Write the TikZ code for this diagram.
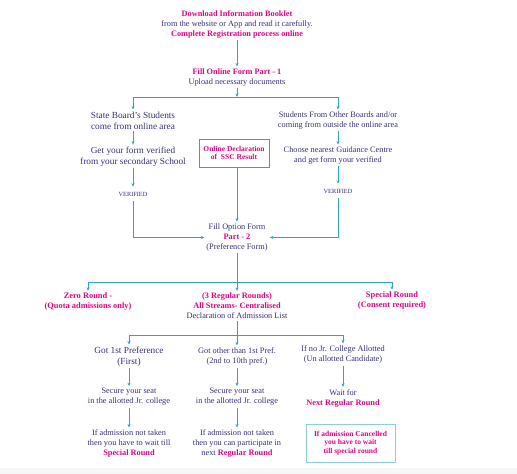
\documentclass[tikz,border=0pt]{standalone}
\usepackage{fontspec}
\setmainfont{Liberation Serif}
\usetikzlibrary{arrows.meta}

\definecolor{navy}{HTML}{35307A}
\definecolor{pinkish}{HTML}{E6007E}
\definecolor{cyanline}{HTML}{2BA6C8}
\newcommand{\pinkbf}[1]{\textcolor{pinkish}{\bfseries #1}}

\begin{document}
\begin{tikzpicture}[
			x=1pt, y=-1pt,
			>={Stealth[length=3.5pt,width=3pt]},
			txt/.style = {align=center, text=navy, font=\fontsize{8.3}{10}\selectfont, inner sep=2pt},
			big/.style = {txt, font=\fontsize{9.3}{11}\selectfont},
			hi/.style = {align=center, text=pinkish, font=\fontsize{8.4}{9.5}\selectfont\bfseries, inner sep=2pt},
			tag/.style = {text=navy, font=\fontsize{6.3}{7}\selectfont, inner sep=5pt},
			link/.style = {draw=cyanline, line width=0.7pt},
			box/.style = {rectangle, draw=cyanline, text=pinkish, align=center, font=\fontsize{7.5}{8.5}\selectfont\bfseries, inner sep=2pt, line width=1pt}
		]
		\useasboundingbox (0,0) rectangle (517,474);
		\fill[gray!7] (0,468) rectangle (517,474);

		\node[txt] (top) at (237,24) {\pinkbf{Download Information Booklet}\\from the website or App and read it carefully.\\\pinkbf{Complete Registration process online}};
		\node[txt] (fill1) at (237,77.5) {\pinkbf{Fill Online Form Part - 1}\\Upload necessary documents};
		\node[big] (sb) at (133,120.5) {State Board's Students\\come from online area};
		\node[big] (gv) at (133,156.5) {Get your form verified\\from your secondary School};
		\node[tag] (ver1) at (133,194) {VERIFIED};
		\node[txt] (ob) at (338,120.5) {Students From Other Boards and/or\\coming from outside the online area};
		\node[txt] (gc) at (338,155.5) {Choose nearest Guidance Centre\\and get form your verified};
		\node[tag] (ver2) at (338,191) {VERIFIED};
		\node[box, minimum width=70, minimum height=28] (ssc) at (234,153) {Online Declaration\\of~ SSC Result};
		\node[txt] (fo) at (237,237.5) {Fill Option Form\\\pinkbf{Part - 2}\\(Preference Form)};
		\node[hi] (zr) at (88,301.5) {Zero Round -\\(Quota admissions only)};
		\node[txt] (rr) at (237,306) {\pinkbf{(3 Regular Rounds)}\\\pinkbf{All Streams- Centralised}\\Declaration of Admission List};
		\node[hi] (sr) at (392,300.5) {Special Round\\(Consent required)};
		\node[big] (g1) at (129,356.5) {Got 1st Preference\\(First)};
		\node[txt] (g2) at (237,356.5) {Got other than 1st Pref.\\(2nd to 10th pref.)};
		\node[txt] (g3) at (343,354.5) {If no Jr. College Allotted\\(Un allotted Candidate)};
		\node[txt] (s1) at (129,397) {Secure your seat\\in the allotted Jr. college};
		\node[txt] (s2) at (237,397) {Secure your seat\\in the allotted Jr. college};
		\node[txt] (wt) at (343,398) {Wait for\\\pinkbf{Next Regular Round}};
		\node[txt] (a1) at (129,443.5) {If admission not taken\\then you have to wait till\\\pinkbf{Special Round}};
		\node[txt] (a2) at (237,443.5) {If admission not taken\\then you can participate in\\next \pinkbf{Regular Round}};
		\node[box, draw=cyanline!55, line width=0.8pt, minimum width=89, minimum height=38] (cb) at (350.5,443) {If admission Cancelled\\you have to wait\\till special round};

		\coordinate (j1) at (237,97);
		\coordinate (j2) at (237,282);
		\coordinate (j3) at (237,335);

		\draw[link,->] (top) -- (fill1);
		\draw[link,->] (fill1) -- (j1);
		\draw[link,->] (j1) -| (sb);
		\draw[link,->] (j1) -| (ob);
		\draw[link,->] (sb) -- (gv);
		\draw[link,->] (gv) -- (ver1);
		\draw[link,->] (ob) -- (gc);
		\draw[link,->] (gc) -- (ver2);
		\draw[link,->] (ver1) |- (fo);
		\draw[link,->] (ver2) |- (fo);
		\draw[link,->] (ssc.south -| fo) -- (fo);
		\draw[link] (fo) -- (j2);
		\draw[link,->] (j2) -| (zr);
		\draw[link,->] (j2) -- (rr);
		\draw[link,->] (j2) -| (sr);
		\draw[link] (rr) -- (j3);
		\draw[link,->] (j3) -| (g1);
		\draw[link,->] (j3) -- (g2);
		\draw[link,->] (j3) -| (g3);
		\draw[link,->] (g1) -- (s1);
		\draw[link,->] (s1) -- (a1);
		\draw[link,->] (g2) -- (s2);
		\draw[link,->] (s2) -- (a2);
		\draw[link,->] (g3) -- (wt);
	\end{tikzpicture}
\end{document}
